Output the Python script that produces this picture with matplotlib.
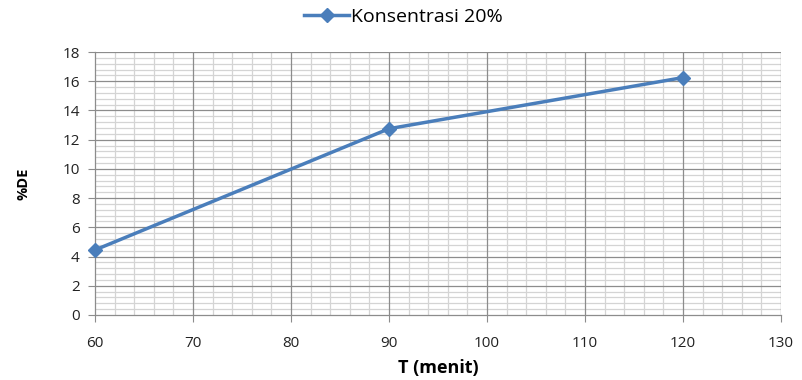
import matplotlib
matplotlib.use("Agg")
import matplotlib.pyplot as plt
from matplotlib.ticker import MultipleLocator

# data
waktu = [60, 90, 120]
de_20 = [4.45, 12.75, 16.25]

plt.rcParams["font.family"] = ["Open Sans", "DejaVu Sans"]

fig = plt.figure(figsize=(8.03, 3.80), dpi=100)
ax = fig.add_axes([95 / 803, 1 - 315 / 380, (781 - 95) / 803, (315 - 52) / 380])

ax.set_xlim(60, 130)
ax.set_ylim(0, 18)
ax.xaxis.set_major_locator(MultipleLocator(10))
ax.xaxis.set_minor_locator(MultipleLocator(2))
ax.yaxis.set_major_locator(MultipleLocator(2))
ax.yaxis.set_minor_locator(MultipleLocator(0.4))

# minor grid from the axis, major grid drawn on top so it stays solid
ax.grid(True, which="minor", color="#d4d4d4", linewidth=0.9)
ax.set_axisbelow(True)
for xv in ax.get_xticks():
    if 60 < xv <= 130:
        ax.axvline(xv, color="#8c8c8c", linewidth=0.9, zorder=1)
for yv in ax.get_yticks():
    if 0 < yv <= 18:
        ax.axhline(yv, color="#8c8c8c", linewidth=0.9, zorder=1)

for side in ["top", "right"]:
    ax.spines[side].set_visible(False)
for side in ["left", "bottom"]:
    ax.spines[side].set_color("#8c8c8c")
    ax.spines[side].set_linewidth(0.9)
    ax.spines[side].set_zorder(1.5)

ax.tick_params(which="major", length=5, color="#8c8c8c", labelsize=11, labelcolor="#222222", pad=6)
ax.tick_params(which="minor", length=0)
ax.tick_params(axis="x", pad=10)

ax.plot(waktu, de_20, color="#4a7ebb", linewidth=2.5, marker="D", markersize=7,
        label="Konsentrasi 20%", clip_on=False, zorder=3)

ax.set_xlabel("T (menit)", fontsize=13, fontweight="bold", labelpad=6)
ax.set_ylabel("%DE", fontsize=10.5, fontweight="bold", labelpad=23)

ax.legend(loc="lower center", bbox_to_anchor=(0.45, 1.07), frameon=False, fontsize=14,
          handlelength=2.3, handletextpad=0.1, borderaxespad=0)

fig.savefig("out.png", dpi=100)
